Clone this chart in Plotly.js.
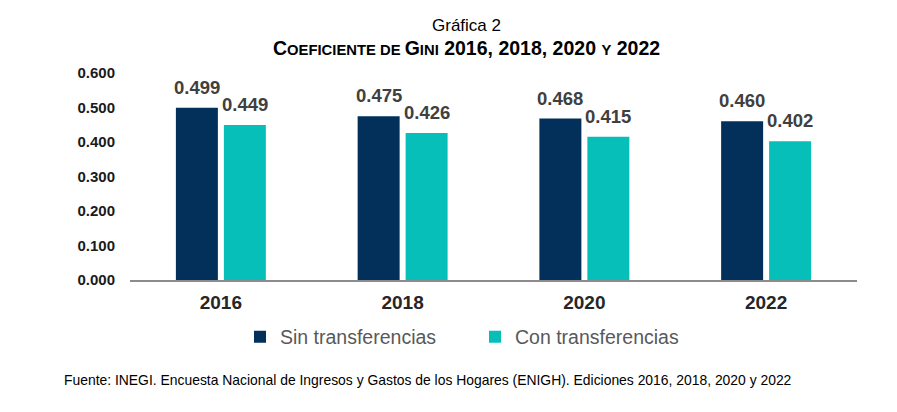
<!DOCTYPE html>
<html><head><meta charset="utf-8">
<script src="https://cdn.plot.ly/plotly-3.0.1.min.js"></script>
<style>html,body{margin:0;padding:0;background:#fff;}#chart{width:897px;height:412px;}</style>
</head><body><div id="chart"></div>
<script>
const years = ['2016', '2018', '2020', '2022'];
const sinTransferencias = [0.499, 0.475, 0.468, 0.460];
const conTransferencias = [0.449, 0.426, 0.415, 0.402];
const seriesNames = ['Sin transferencias', 'Con transferencias'];
const yTickVals = [0, 0.1, 0.2, 0.3, 0.4, 0.5, 0.6];
const yTickText = ['0.000', '0.100', '0.200', '0.300', '0.400', '0.500', '0.600'];

const colorSin = '#03305A';
const colorCon = '#06BFB8';

const traces = [
  {type:'bar', name:seriesNames[0], x:years, y:sinTransferencias, marker:{color:colorSin}, hoverinfo:'x+y'},
  {type:'bar', name:seriesNames[1], x:years, y:conTransferencias, marker:{color:colorCon}, hoverinfo:'x+y'}
];

const labelFont = {family:'Liberation Sans, Arial, sans-serif', size:18.5, color:'#404040', weight:'bold'};
const annotations = [];
years.forEach((yr, i) => {
  annotations.push({x:i, y:sinTransferencias[i], xref:'x', yref:'y', text:'<b>'+sinTransferencias[i].toFixed(3)+'</b>',
    showarrow:false, xshift:-24, yshift:8, yanchor:'bottom', font:labelFont});
  annotations.push({x:i, y:conTransferencias[i], xref:'x', yref:'y', text:'<b>'+conTransferencias[i].toFixed(3)+'</b>',
    showarrow:false, xshift:24, yshift:8, yanchor:'bottom', font:labelFont});
});
annotations.push({xref:'paper', yref:'paper', x:(466-130)/727, y:(412-25-132)/207, yanchor:'middle', xanchor:'center',
  text:'Gráfica 2', showarrow:false, font:{family:'Liberation Sans, Arial, sans-serif', size:17, color:'#000'}});
const big = s => '<span style="font-size:19.5px">'+s+'</span>';
const sm = s => '<span style="font-size:14.8px">'+s+'</span>';
annotations.push({xref:'paper', yref:'paper', x:(466-130)/727, y:(412-48-132)/207, yanchor:'middle', xanchor:'center',
  text:'<b>'+big('C')+sm('OEFICIENTE DE ')+big('G')+sm('INI')+big(' 2016, 2018, 2020 ')+sm('Y')+big(' 2022')+'</b>',
  showarrow:false, font:{family:'Liberation Sans, Arial, sans-serif', size:19.5, color:'#000'}});
annotations.push({xref:'paper', yref:'paper', x:(62-130)/727, y:(412-380-132)/207, yanchor:'middle', xanchor:'left',
  text:'Fuente: INEGI. Encuesta Nacional de Ingresos y Gastos de los Hogares (ENIGH). Ediciones 2016, 2018, 2020 y 2022',
  showarrow:false, font:{family:'Liberation Sans, Arial, sans-serif', size:13.9, color:'#000'}});

const layout = {
  width:897, height:412,
  margin:{l:130, r:40, t:73, b:132},
  paper_bgcolor:'#fff', plot_bgcolor:'#fff',
  barmode:'group', bargap:0.472, bargroupgap:0.125,
  showlegend:true,
  legend:{orientation:'h', x:(240-130)/727, xanchor:'left', y:(412-337-132)/207, yanchor:'middle',
    font:{family:'Liberation Sans, Arial, sans-serif', size:19.5, color:'#595959'}, entrywidth:190, itemclick:false},
  xaxis:{type:'category', range:[-0.5, 3.5], autorange:false, showline:true, linecolor:'#8C8C8C', linewidth:2,
    showgrid:false, zeroline:false, ticks:'', ticklabelstandoff:4,
    tickfont:{family:'Liberation Sans, Arial, sans-serif', size:19, color:'#262626', weight:'bold'}},
  yaxis:{range:[0,0.6], autorange:false, tickvals:yTickVals, ticktext:yTickText, showgrid:false, zeroline:false, showline:false,
    ticks:'', ticklabelstandoff:14,
    tickfont:{family:'Liberation Sans, Arial, sans-serif', size:15, color:'#1a1a1a', weight:'bold'}},
  annotations:annotations
};
Plotly.newPlot('chart', traces, layout, {displayModeBar:false, staticPlot:true});
</script></body></html>
